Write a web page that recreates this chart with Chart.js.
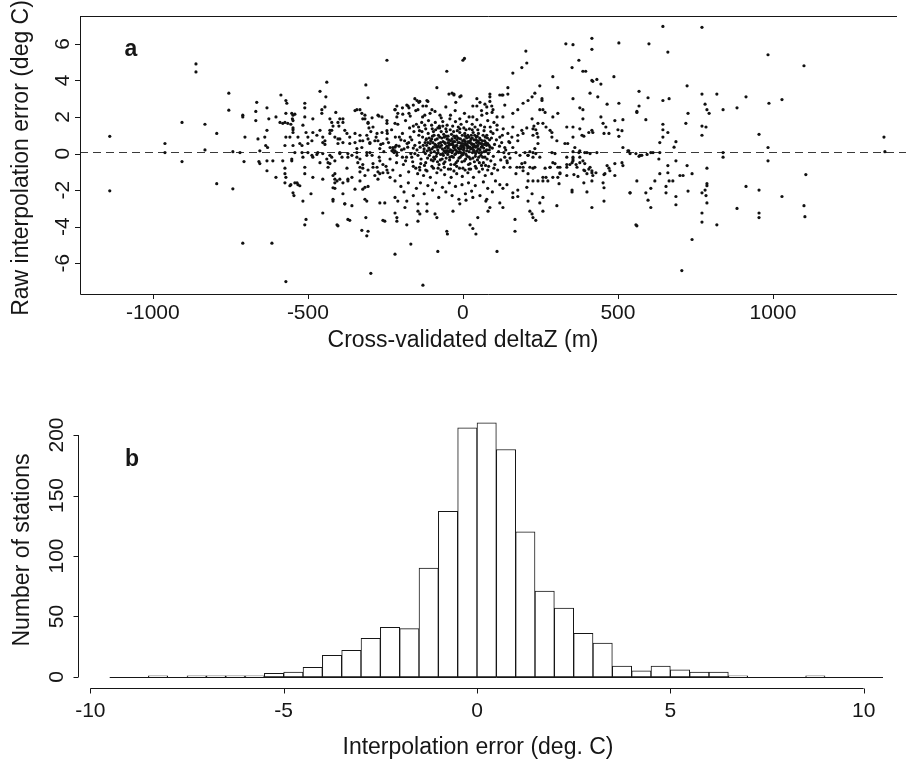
<!DOCTYPE html>
<html>
<head>
<meta charset="utf-8">
<script src="https://cdn.jsdelivr.net/npm/chart.js@4.4.0/dist/chart.umd.min.js"></script>
<style>
  body { margin: 0; background: #fff; }
  #wrap { position: relative; width: 906px; height: 762px; }
  canvas { position: absolute; left: 0; }
</style>
</head>
<body>
<div id="wrap">
  <canvas id="scatter" width="906" height="360" style="top:0"></canvas>
  <canvas id="hist" width="906" height="402" style="top:360px"></canvas>
</div>
<script>
'use strict';

// panel a: [cross-validated deltaZ (m), raw interpolation error (deg C)]
let stations = [
  [-1139,0.94],[-1139,-2.04],[-861,4.9],[-861,4.46],[-961,0.55],[-906,1.7],[-906,-0.44],[-961,0.05],[-832,1.6],[-832,0.2],
  [-794,1.1],[-794,-1.65],[-755,3.3],[-755,2.37],[-742,-1.93],[-742,0.1],[-710,2.1],[-710,2.0],[-703,0.9],[-706,-0.44],
  [-710,-4.9],[-719,0.05],[-665,2.8],[-668,2.3],[-668,1.8],[-661,0.8],[-658,-0.44],[-655,-0.55],[-655,0.15],[-632,2.5],
  [-632,1.27],[-639,0.9],[-636,0.44],[-630,0.33],[-632,-0.4],[-632,-0.94],[-616,-4.9],[-626,1.9],[-613,-0.4],[-603,-1.3],
  [-603,2.0],[-587,3.2],[-571,2.9],[-568,2.75],[-571,2.2],[-552,2.2],[-550,1.9],[-581,1.65],[-565,1.65],[-548,1.4],
  [-571,0.9],[-558,0.9],[-574,0.44],[-548,0.44],[-581,-0.4],[-574,-0.8],[-574,-1.1],[-571,-1.3],[-574,-1.6],[-552,-0.4],
  [-555,-1.7],[-548,-2.15],[-545,-2.3],[-535,-1.6],[-571,-7.0],
  [-245,5.1],[-313,3.75],[-306,3.05],[-439,3.9],[-461,3.4],[-442,3.1],[-510,2.75],[-510,2.5],[-455,2.4],[-455,2.2],
  [-445,2.55],[-387,1.9],[-342,2.4],[-332,2.4],[-316,2.1],[-316,1.9],[-510,2.0],[-548,2.1],[-548,1.8],[-484,1.9],
  [-429,1.9],[-403,1.7],[-400,1.5],[-306,1.65],[-303,1.4],[-274,2.1],[-245,1.8],[-219,2.4],[-177,2.6],[-174,2.5],
  [-148,2.9],[-142,2.8],[-116,2.9],[-84,3.6],[-52,4.5],[0,5.1],[5,5.2],[-35,3.3],[-29,3.2],[-10,3.1],
  [45,3.0],[87,3.1],[126,3.2],[145,3.6],[161,4.4],[190,4.7],[206,4.95],[203,5.6],[248,3.7],[290,4.2],
  [306,3.6],[332,6.0],[355,5.95],[352,4.7],[374,5.1],[387,4.5],[396,4.5],[416,6.3],[416,5.7],[416,4.0],
  [410,3.3],[355,3.0],[377,2.5],[387,2.4],[419,1.15],[45,2.6],[77,2.55],[93,2.6],[97,2.4],[32,2.0],
  [61,2.1],[110,2.0],[161,2.2],[177,2.4],[194,2.75],[210,2.9],[223,3.1],[232,3.3],[255,2.9],[258,2.4],
  [290,2.0],[306,2.2],[223,1.9],[206,1.4],[226,1.35],[239,1.1],[242,0.9],[258,1.65],[268,1.45],[287,1.15],
  [335,1.45],[355,1.45],[355,0.9],[377,1.35],[384,1.0],[390,0.95],[303,0.7],[329,0.55],[338,0.55],[361,0.33],
  [377,0.15],[400,0.05],[410,0.0],[432,0.05],[335,-0.2],[355,-0.2],[335,-0.6],[345,-0.6],[355,-0.4],[365,-0.6],
  [377,-0.2],[387,-0.4],[410,-0.75],[416,-1.05],[313,-0.75],[313,-1.1],[281,-0.75],[290,-1.3],[258,-1.3],[268,-1.3],
  [226,-1.5],[210,-1.1],[184,-0.75],[194,-0.94],[174,-0.75],[171,-1.1],[142,-0.4],[152,-0.75],[226,-0.2],[248,-0.2],
  [200,0.05],[210,-0.1],[171,0.05],[184,-0.1],[132,0.05],[148,0.0],[119,-1.7],[129,-1.9],[142,-1.7],[177,-2.0],
  [206,-1.85],[223,-2.2],[258,-2.4],[303,-2.85],[352,-2.0],[416,-1.5],[416,-2.95],[161,-2.15],[210,-2.6],[216,-3.15],
  [223,-3.3],[226,-3.5],[235,-3.65],[168,-3.6],[168,-4.25],[110,-5.35],[81,-3.15],[87,-2.95],[74,-2.6],[77,-2.5],
  [48,-3.5],[23,-3.9],[32,-4.1],[42,-4.4],[10,-2.55],[32,-2.4],[-10,-2.75],[-32,-3.15],[-52,-4.25],[-50,-4.4],
  [-81,-5.35],[-90,-3.3],[-84,-3.5],[-116,-2.75],[-116,-3.15],[-145,-2.75],[-145,-3.15],[-139,-3.3],[-145,-3.7],[-168,-4.95],
  [-181,-3.9],[-129,-7.2],[-219,-5.5],[-213,-3.7],[-213,-3.5],[-219,-3.25],[-187,-2.95],[-181,-2.6],[-252,-3.7],[-268,-2.7],
  [-252,-2.7],[-297,-6.55],[-306,-4.25],[-310,-4.5],[-326,-4.2],[-313,-3.5],[-310,-2.6],[-323,-1.95],[-371,-3.6],[-365,-3.65],
  [-406,-3.9],[-403,-3.95],[-381,-2.75],[-419,-2.6],[-452,-3.25],[-490,-2.2],[-516,-2.6],[-506,-3.6],[-510,-3.9],[-542,-1.6],
  [-532,-1.7],[-484,-1.3],[-510,-0.75],[-510,-1.1],[-452,-1.4],[-435,-0.75],[-429,-0.55],[-413,-1.1],[-413,-1.4],[-406,-1.5],
  [-387,-1.6],[-371,-1.5],[-358,-1.3],[-348,-1.95],[-542,0.05],[-516,-0.2],[-500,0.05],[-484,-0.2],[-468,0.05],[-452,0.0],
  [-439,-0.3],[-423,-0.2],[-397,0.0],[-390,-0.2],[-371,0.0],[-358,-0.1],[-342,-0.2],[-332,-0.3],[-310,-0.1],[-300,0.05],
  [-290,-0.55],[-277,-0.75],[-268,-1.1],[-258,-1.05],[-332,-0.75],[-323,-0.8],[-374,-0.8],[-532,0.9],[-526,0.55],[-500,0.55],
  [-484,1.15],[-471,1.0],[-452,0.9],[-445,0.7],[-429,1.1],[-423,1.27],[-403,0.55],[-397,0.8],[-374,1.1],[-365,0.9],
  [-348,1.1],[-348,0.6],[-332,0.7],[-326,0.33],[-306,0.8],[-300,0.55],[-277,1.1],[-274,0.7],[-261,1.15],[-258,0.55],
  [-235,0.33],[-219,0.15],
  [-45,3.25],[-29,3.25],[-6,3.15],[-23,2.8],[87,3.25],[129,3.2],[145,3.25],[32,2.6],[55,2.8],[71,2.7],
  [87,2.85],[77,2.2],[94,2.25],[135,2.65],[110,1.55],[45,1.85],[-213,2.6],[-181,2.65],[-155,3.0],[-139,2.85],
  [-113,2.85],[-100,2.4],[-194,2.15],[-174,2.2],[-152,2.35],[-129,2.6],[-123,2.1],[-106,2.2],[-74,2.1],[-65,1.5],
  [-81,1.4],
  [419,3.95],[432,4.05],[445,3.8],[487,4.2],[503,6.05],[435,3.1],[465,2.7],[503,2.75],[561,2.3],[568,3.4],
  [387,1.9],[445,2.0],[490,1.8],[516,1.85],[452,1.65],[461,1.45],[455,1.1],[471,1.1],[500,1.3],[513,1.25],
  [503,0.94],[406,1.15],[416,1.27],[516,0.33],[532,0.15],[558,0.0],[568,-0.15],[513,-0.5],[490,-0.55],[465,-0.66],
  [471,-0.8],[455,-1.15],[490,-1.2],[400,-1.1],[419,-1.2],[429,-1.05],[452,-1.6],[455,-1.87],[390,-1.6],[352,-2.1],
  [400,-2.1],[455,-2.6],[539,-2.15],[561,-1.5],[561,-3.95],[248,-2.7],[258,-3.15],[161,-2.4],[177,-2.35],[129,-2.95],
  [119,-2.7],[210,-1.5],[242,-1.5],[258,-1.5],[274,-1.5],[306,-1.3],[310,-1.65],[335,-1.2],[358,-1.15],[371,-1.25],
  [390,-0.9],[406,-0.85],[416,-0.94],[368,-0.75],[377,-0.5],[335,-0.75],[352,-0.5],[355,-0.3],[306,-0.75],[313,-1.05],
  [290,-0.5],[297,-0.55],[281,-0.75],[265,-0.8],[194,-0.75],[216,-0.75],[226,-0.8],[232,-0.75],[190,-0.55],[200,-0.5],
  [210,-0.1],[235,0.0],[226,0.05],[216,0.1],[287,0.05],[297,0.0],[355,0.1],[374,0.05],[393,0.05],[232,0.27],
  [242,0.55],[226,1.0],[235,1.3],[242,1.65],[229,1.5],[281,1.27],[287,0.9],[190,1.27],[194,1.1],[161,1.45],
  [177,1.0],[177,0.7],[135,0.33],[161,0.33],[151,0.6],[119,0.9],[255,3.0],[265,2.25],[248,2.4],[119,3.2],
  [129,2.0],[571,-0.1],
  [645,6.95],[771,6.9],[600,6.0],[661,5.55],[984,5.4],[1100,4.8],[597,3.05],[645,2.9],[665,3.0],[723,3.7],
  [771,3.25],[819,3.25],[913,3.1],[987,2.75],[1029,2.95],[781,2.7],[787,2.4],[794,2.2],[884,2.5],[839,2.4],
  [726,2.2],[719,1.65],[645,1.6],[645,1.3],[661,1.15],[590,1.85],[568,2.6],[561,2.25],[771,1.5],[784,1.45],
  [771,1.0],[955,1.05],[687,0.65],[681,0.35],[635,0.6],[645,0.9],[535,0.15],[539,0.0],[577,-0.1],[594,-0.05],
  [606,0.05],[613,0.05],[635,0.05],[632,-0.3],[839,-0.2],[839,0.05],[984,0.33],[984,-0.4],[1358,0.9],[1361,0.1],
  [458,-1.1],[474,-0.94],[393,-0.55],[393,-0.94],[661,-0.66],[661,-1.05],[687,-0.4],[700,-1.2],[723,-0.66],[710,-1.2],
  [739,-1.1],[787,-0.8],[787,-1.65],[787,-1.76],[771,-2.15],[784,-2.3],[781,-2.0],[787,-2.7],[771,-3.25],[771,-3.75],
  [819,-3.9],[739,-4.7],[706,-6.4],[726,-2.05],[687,-2.35],[687,-2.8],[665,-1.5],[677,-1.5],[635,-1.1],[655,-1.8],
  [655,-2.15],[619,-1.5],[606,-1.9],[606,-2.95],[590,-2.15],[597,-2.55],[539,-2.15],[558,-3.9],[516,-0.66],[913,-1.8],
  [955,-2.0],[955,-3.25],[955,-3.5],[884,-3.0],[1029,-2.35],[1100,-2.85],[1103,-3.45],[1106,-1.15],
  [-410,2.25],[-397,1.9],[-387,1.7],[-423,1.7],[-419,1.5],[-348,2.35],[-326,2.2],[-323,1.9],[-306,1.7],[-293,1.95],
  [-271,2.05],[-290,1.45],[-297,1.2],[-261,2.0],[-245,1.65],[-245,1.25],[-219,2.4],[-213,2.0],[-219,1.65],[-590,1.7],
  [-574,1.7],[-555,1.6],[-542,2.15],[-548,1.3],[-548,1.15],[-516,1.55],[-506,1.15],[-500,0.9],[-519,0.44],[-487,0.7],
  [-461,1.27],[-452,0.6],[-445,0.5],[-429,1.27],[-413,0.9],[-403,0.8],[-387,0.6],[-381,1.27],[-365,0.55],[-342,0.27],
  [-332,1.0],[-323,0.7],[-310,1.0],[-300,0.6],[-284,0.7],[-268,0.27],[-245,0.8],[-226,0.33],[-219,0.35],[-213,0.05],
  [-519,0.05],[-487,-0.1],[-471,-0.05],[-429,-0.1],[-413,-0.4],[-397,0.05],[-371,-0.2],[-342,0.05],[-310,0.05],[-293,-0.1],
  [-229,0.15],[-213,-0.1],[-552,-0.3],[-461,-0.5],[-435,-0.5],[-419,-1.2],[-413,-1.6],[-397,-1.4],[-371,-1.4],[-339,-0.5],
  [-323,-0.6],[-306,-0.9],[-332,-1.0],[-316,-1.2],[-290,-0.75],[-274,-1.0],[-284,-1.2],[-274,-1.4],[-268,-0.4],[-258,-0.6],
  [-245,-0.9],[-242,-1.05],[-235,-1.3],[-219,-1.5],[-558,-1.76],[-526,-1.76],[-419,-1.87],[-413,-1.9],[-387,-2.2],[-419,-2.5],
  [-381,-2.75],[-358,-2.85],[-316,-2.5],[-332,-1.5],[-316,-1.85],[-306,-1.8],[-219,-2.4],[-210,-2.6],[-258,-3.65],
  // dense core near deltaZ 0
  [-148,0.2],[-140,0.6],[-135,-0.3],[-130,0.9],[-126,0.1],[-120,-0.5],[-117,0.45],[-112,1.1],[-108,-0.1],[-104,0.7],
  [-100,0.25],[-96,-0.4],[-93,1.0],[-90,0.5],[-86,-0.15],[-83,0.8],[-80,0.05],[-77,-0.6],[-74,0.35],[-70,1.2],
  [-67,-0.3],[-64,0.65],[-61,0.15],[-58,-0.45],[-55,0.95],[-52,0.4],[-49,-0.05],[-46,0.75],[-43,-0.35],[-40,0.2],
  [-37,1.05],[-34,0.55],[-31,-0.2],[-28,0.3],[-25,0.85],[-22,-0.5],[-19,0.1],[-16,0.6],[-13,-0.25],[-10,1.15],
  [-7,0.4],[-4,-0.1],[-1,0.7],[2,0.2],[5,-0.4],[8,0.95],[11,0.45],[14,-0.15],[17,0.65],[20,0.1],
  [23,-0.55],[26,0.8],[29,0.3],[32,-0.25],[35,0.5],[38,1.0],[41,0.0],[44,0.6],[47,-0.35],[50,0.25],
  [54,0.85],[58,-0.1],[62,0.4],[66,-0.5],[70,0.7],[74,0.15],[78,-0.3],
  [-145,-0.1],[-138,0.35],[-132,1.2],[-124,-0.65],[-118,0.8],[-110,0.3],[-102,-0.35],[-98,0.95],[-92,0.1],[-88,1.3],
  [-82,-0.45],[-78,0.55],[-72,-0.05],[-68,0.85],[-62,-0.55],[-57,0.3],[-53,1.2],[-48,0.6],[-44,0.1],[-39,-0.6],
  [-35,0.8],[-30,0.35],[-26,-0.05],[-21,0.95],[-17,-0.4],[-12,0.25],[-8,0.8],[-3,-0.45],[1,0.4],[6,1.1],
  [10,-0.05],[15,0.3],[19,0.9],[24,-0.3],[28,0.55],[33,1.15],[37,-0.45],[42,0.35],[46,0.95],[51,-0.2],
  [56,0.55],[60,0.05],[65,1.0],[71,-0.2],[76,0.45],[82,0.0],[86,0.75],[90,-0.4],[95,0.3],
  [-142,1.0],[-136,-0.55],[-128,0.45],[-121,0.0],[-114,-0.25],[-106,0.55],[-99,1.35],[-94,-0.2],[-85,0.35],[-79,1.0],
  [-73,-0.35],[-66,0.25],[-60,0.9],[-54,-0.25],[-50,0.15],[-45,0.45],[-41,1.3],[-36,-0.15],[-32,0.65],[-27,-0.6],
  [-23,0.4],[-18,1.25],[-14,0.05],[-9,-0.2],[-5,0.55],[0,-0.05],[4,0.75],[9,-0.3],[13,0.5],[18,-0.6],
  [22,0.35],[27,1.0],[31,0.05],[36,0.75],[40,-0.15],[45,0.15],[49,0.7],[53,-0.5],[59,0.35],[64,-0.2],
  [69,0.5],[73,-0.65],[80,0.55],[85,0.2],[92,0.85],[98,-0.15],[102,0.5],
  [-125,0.25],[-119,0.75],[-115,0.15],[-109,0.85],[-103,0.05],[-97,0.6],[-91,-0.3],[-87,0.45],[-81,0.2],[-75,0.9],
  [-69,0.45],[-63,-0.1],[-59,0.6],[-56,0.05],[-51,0.8],[-47,0.3],[-42,-0.2],[-38,0.5],[-33,0.15],[-29,0.95],
  [-24,0.2],[-20,0.45],[-15,0.85],[-11,0.1],[-6,0.25],[-2,1.0],[3,0.05],[7,0.5],[12,0.15],[16,1.0],
  [21,0.6],[25,0.25],[30,0.85],[34,0.2],[39,0.4],[43,0.9],[48,0.45],[52,0.05],[57,0.75],[61,0.55],
  [67,0.3],[72,0.9],[77,0.2],[84,0.45],
  [-122,0.6],[-113,0.6],[-107,0.2],[-101,0.8],[-95,0.35],[-89,0.75],[-84,0.0],[-79,0.4],[-72,0.6],[-65,0.0],
  [-62,1.05],[-57,0.55],[-53,0.15],[-48,0.95],[-44,0.55],[-40,0.7],[-35,0.05],[-31,0.45],[-27,0.65],[-23,0.0],
  [-19,0.75],[-15,0.3],[-11,0.6],[-7,0.05],[-3,0.35],[0,0.55],[4,0.3],[8,0.65],[12,0.85],[16,0.4],
  [20,-0.2],[24,0.7],[29,0.5],[33,0.35],[37,0.1],[42,0.75],[46,0.4],[51,0.6],[55,0.2],[63,0.7],
  [68,0.1],[74,0.6],[79,0.85],[88,0.35],
  [-160,0.3],[-170,0.9],[-180,0.55],[-190,0.25],[-200,0.75],[-185,-0.4],[-165,-0.2],[-155,0.0],[-175,0.6],[-195,-0.2],
  [-205,0.9],[-215,0.45],[-225,0.2],[-160,-0.7],[-140,-0.75],[-120,-0.9],[-100,-0.7],[-80,-0.8],[-60,-0.75],[-40,-0.85],
  [-20,-0.7],[0,-0.8],[20,-0.85],[40,-0.7],[60,-0.65],[80,-0.9],[100,-0.8],[115,0.1],[125,0.6],[135,-0.2],
  [110,1.3],[130,1.35],[145,1.1],[-160,1.5],[-140,1.25],[-120,1.35],[-95,1.2],[-75,1.4],[-55,1.35],[-30,1.2],
  [-10,1.35],[10,1.3],[30,1.3],[50,1.1],[70,1.45],[90,1.2],
  [-240,0.6],[-235,-0.3],[-230,1.3],[-226,-0.9],[-222,0.05],[-218,0.9],[-214,-0.5],[-210,1.6],[-206,0.4],[-202,-1.2],
  [-198,0.2],[-195,1.1],[-192,-0.6],[-188,0.7],[-185,1.8],[-182,-0.2],[-178,0.35],[-175,-1.0],[-172,1.4],[-168,0.0],
  [-165,0.75],[-162,-0.45],[-158,1.2],[-155,0.45],[-152,-0.8],[-150,1.6],[-146,-1.1],[-143,1.45],[-139,-0.9],[-133,1.7],
  [-127,-1.2],[-123,1.55],[-116,-0.95],[-111,1.8],[-105,-1.3],[-101,1.55],[-95,-0.8],[-89,1.7],[-84,-1.05],[-76,1.5],
  [-71,-0.9],[-65,1.75],[-59,-1.15],[-51,1.55],[-47,-0.85],[-42,1.9],[-38,-1.3],[-33,1.5],[-29,-0.95],[-24,1.75],
  [-20,-1.1],[-15,1.45],[-11,-0.8],[-6,1.6],[-2,-1.25],[3,1.4],[7,-0.9],[12,1.75],[16,-1.05],[21,1.35],
  [25,-0.85],[30,1.6],[34,-1.3],[39,1.45],[43,-0.8],[48,1.3],[52,-1.0],[57,1.55],[63,-0.85],[68,1.25],
  [72,-1.2],[77,1.0],[83,-0.7],[88,1.45],[93,-1.1],[97,1.1],[103,-0.6],[108,0.75],[112,-0.9],[118,0.4],
  [122,-0.35],[127,1.0],[132,-0.75],[138,0.2],[143,-0.5],[148,0.65],[152,-0.25],[158,0.9],[-255,0.1],[-248,-0.7],
  [-244,1.1],[-265,0.5],[-270,-0.2],[-280,0.9],
  [-200,-1.8],[-190,-2.1],[-176,-1.6],[-160,-2.3],[-150,-1.9],[-137,-1.6],[-125,-2.2],[-113,-1.75],[-98,-2.0],[-88,-1.6],
  [-78,-2.4],[-66,-1.85],[-55,-2.1],[-44,-1.6],[-35,-2.3],[-24,-1.8],[-13,-2.5],[-3,-1.7],[8,-2.2],[18,-1.6],
  [28,-2.05],[40,-1.75],[55,-2.3],[66,-1.55],[80,-1.9],[95,-2.1],[105,-1.5],[-210,2.2],[-195,2.5],[-170,2.05],
  [-160,2.65],[-145,2.4],[-130,2.0],[-118,2.6],[-90,2.3],[-70,1.95],[-55,2.55],[-40,2.1],[-25,2.35],[-10,1.9],
  [5,2.2],[20,2.0],[60,2.35],[80,1.8],[100,1.7]
];
let meanError = 0.1;
let topXTicks = [-1000, -500, 0, 500, 1000];
let topYTicks = [-6, -4, -2, 0, 2, 4, 6];

// panel b: histogram, bins of 0.5 deg C
let binWidth = 0.5;
let binStarts = [-9.5, -9, -8.5, -8, -7.5, -7, -6.5, -6, -5.5, -5, -4.5, -4, -3.5, -3, -2.5, -2, -1.5, -1, -0.5, 0,
  0.5, 1, 1.5, 2, 2.5, 3, 3.5, 4, 4.5, 5, 5.5, 6, 6.5, 7, 7.5, 8, 8.5, 9, 9.5, 10];
let binCounts = [0, 0, 1, 0, 1, 1, 1, 1, 3, 4, 8, 18, 22, 32, 41, 40, 90, 137, 206, 210,
  188, 120, 71, 57, 36, 28, 9, 5, 9, 6, 4, 4, 1, 0, 0, 0, 1, 0, 0, 0];
let bottomXTicks = [-10, -5, 0, 5, 10];
let bottomYTicks = [0, 50, 100, 150, 200];

let ink = '#161616';
let tickFont = '21px "Liberation Sans", Arial, sans-serif';
let titleFont = '23px "Liberation Sans", Arial, sans-serif';
let panelFont = 'bold 23px "Liberation Sans", Arial, sans-serif';

function vText(ctx, text, x, y) {
  ctx.save();
  ctx.translate(x, y);
  ctx.rotate(-Math.PI / 2);
  ctx.fillText(text, 0, 0);
  ctx.restore();
}

let scatterAxes = {
  id: 'scatterAxes',
  beforeDatasetsDraw(chart) {
    let ctx = chart.ctx;
    let area = chart.chartArea;
    let y0 = Math.round(chart.scales.y.getPixelForValue(meanError)) + 0.5;
    ctx.save();
    ctx.strokeStyle = '#3a3a3a';
    ctx.lineWidth = 1;
    ctx.setLineDash([8, 5]);
    ctx.beginPath();
    ctx.moveTo(area.left, y0);
    ctx.lineTo(906, y0);
    ctx.stroke();
    ctx.restore();
  },
  afterDraw(chart) {
    let ctx = chart.ctx;
    let area = chart.chartArea;
    let xs = chart.scales.x;
    let ys = chart.scales.y;
    ctx.save();
    ctx.strokeStyle = ink;
    ctx.lineWidth = 1;
    ctx.beginPath();
    ctx.moveTo(area.left + 0.5, area.top + 0.5);
    ctx.lineTo(area.right, area.top + 0.5);
    ctx.moveTo(area.left + 0.5, area.top);
    ctx.lineTo(area.left + 0.5, area.bottom + 0.5);
    ctx.lineTo(area.right, area.bottom + 0.5);
    for (let v of topXTicks) {
      let px = Math.round(xs.getPixelForValue(v)) + 0.5;
      ctx.moveTo(px, area.bottom);
      ctx.lineTo(px, area.bottom + 5);
    }
    for (let v of topYTicks) {
      let py = Math.round(ys.getPixelForValue(v)) + 0.5;
      ctx.moveTo(area.left, py);
      ctx.lineTo(area.left - 5, py);
    }
    ctx.stroke();

    ctx.fillStyle = ink;
    ctx.textAlign = 'center';
    ctx.textBaseline = 'middle';
    ctx.font = tickFont;
    for (let v of topXTicks) {
      ctx.fillText(String(v), xs.getPixelForValue(v), 313);
    }
    for (let v of topYTicks) {
      vText(ctx, String(v), 63, ys.getPixelForValue(v));
    }
    ctx.font = titleFont;
    ctx.fillText('Cross-validated deltaZ (m)', 463, 341);
    vText(ctx, 'Raw interpolation error (deg C)', 22, 158);
    ctx.font = panelFont;
    ctx.fillText('a', 131, 50);
    ctx.restore();
  }
};

let histAxes = {
  id: 'histAxes',
  afterDatasetsDraw(chart) {
    let ctx = chart.ctx;
    let area = chart.chartArea;
    let xs = chart.scales.x;
    let ys = chart.scales.y;
    ctx.save();
    ctx.strokeStyle = ink;
    ctx.lineWidth = 1;
    ctx.beginPath();
    // baseline under the empty bins
    let base = Math.round(ys.getPixelForValue(0)) + 0.5;
    ctx.moveTo(xs.getPixelForValue(binStarts[0]), base);
    ctx.lineTo(xs.getPixelForValue(binStarts[binStarts.length - 1] + binWidth), base);
    // y axis
    let ax = area.left + 0.5;
    ctx.moveTo(ax, ys.getPixelForValue(bottomYTicks[0]));
    ctx.lineTo(ax, ys.getPixelForValue(bottomYTicks[bottomYTicks.length - 1]));
    for (let v of bottomYTicks) {
      let py = Math.round(ys.getPixelForValue(v)) + 0.5;
      ctx.moveTo(ax, py);
      ctx.lineTo(ax - 5, py);
    }
    // x axis
    let ay = area.bottom + 0.5;
    ctx.moveTo(xs.getPixelForValue(bottomXTicks[0]), ay);
    ctx.lineTo(xs.getPixelForValue(bottomXTicks[bottomXTicks.length - 1]), ay);
    for (let v of bottomXTicks) {
      let px = Math.round(xs.getPixelForValue(v)) + 0.5;
      ctx.moveTo(px, ay);
      ctx.lineTo(px, ay + 5);
    }
    ctx.stroke();

    ctx.fillStyle = ink;
    ctx.textAlign = 'center';
    ctx.textBaseline = 'middle';
    ctx.font = tickFont;
    for (let v of bottomXTicks) {
      ctx.fillText(String(v), xs.getPixelForValue(v), 351);
    }
    for (let v of bottomYTicks) {
      vText(ctx, String(v), 57, ys.getPixelForValue(v));
    }
    ctx.font = titleFont;
    ctx.fillText('Interpolation error (deg. C)', 478, 388);
    vText(ctx, 'Number of stations', 23, 190);
    ctx.font = panelFont;
    ctx.fillText('b', 132, 100);
    ctx.restore();
  }
};

function renderScatter() {
  let pts = [];
  for (let i = 0; i < stations.length; i++) {
    pts.push({ x: stations[i][0], y: stations[i][1] });
  }
  new Chart(document.getElementById('scatter'), {
    type: 'scatter',
    data: {
      datasets: [{
        data: pts,
        pointRadius: 1.6,
        pointBorderWidth: 0,
        pointBackgroundColor: '#111',
        pointBorderColor: '#111'
      }]
    },
    options: {
      responsive: false,
      animation: false,
      layout: { padding: { left: 80, top: 16, right: 9, bottom: 66 } },
      plugins: { legend: { display: false }, tooltip: { enabled: false } },
      scales: {
        x: { type: 'linear', min: -1235, max: 1400, display: false },
        y: { type: 'linear', min: -7.68, max: 7.52, display: false }
      }
    },
    plugins: [scatterAxes]
  });
}

function renderHist() {
  let bars = [];
  for (let i = 0; i < binStarts.length; i++) {
    bars.push({ x: binStarts[i] + binWidth / 2, y: binCounts[i] });
  }
  new Chart(document.getElementById('hist'), {
    type: 'bar',
    data: {
      datasets: [{
        data: bars,
        backgroundColor: '#fff',
        borderColor: ink,
        borderWidth: 1,
        borderSkipped: false,
        barPercentage: 1,
        categoryPercentage: 1
      }]
    },
    options: {
      responsive: false,
      animation: false,
      layout: { padding: { left: 78, top: 53, right: 6, bottom: 74 } },
      plugins: { legend: { display: false }, tooltip: { enabled: false } },
      scales: {
        x: { type: 'linear', min: -10.32, max: 10.94, display: false, offset: false },
        y: { type: 'linear', min: -9.1, max: 218.2, display: false }
      }
    },
    plugins: [histAxes]
  });
}

renderScatter();
renderHist();
</script>
</body>
</html>
